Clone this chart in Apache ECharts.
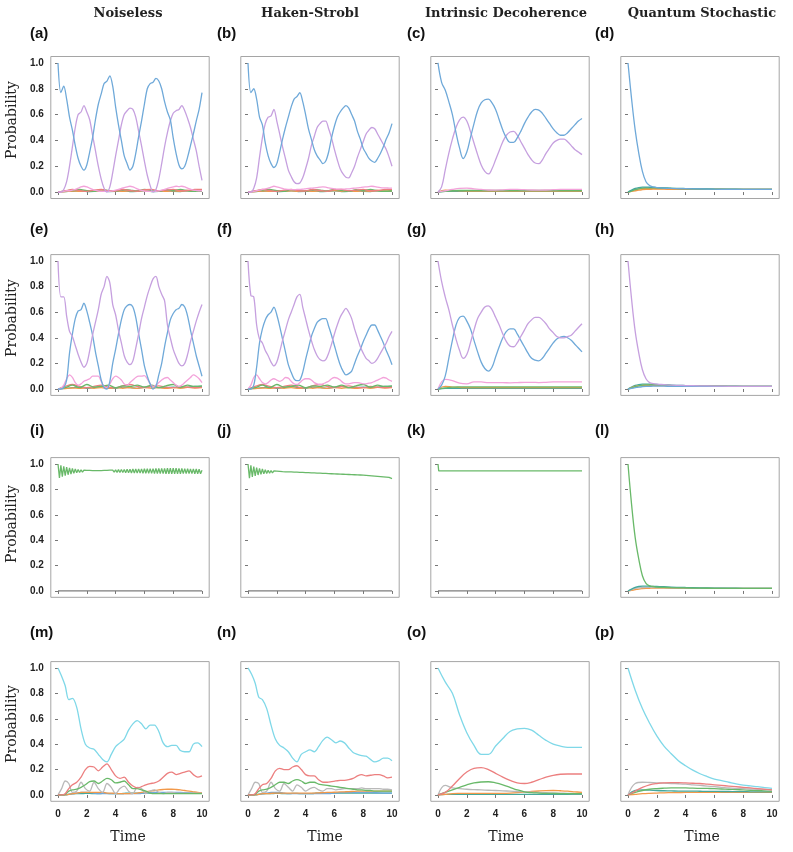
<!DOCTYPE html>
<html>
<head>
<meta charset="utf-8">
<script src="https://cdn.jsdelivr.net/npm/echarts@6/dist/echarts.min.js"></script>
<style>
    html, body { margin: 0; padding: 0; background: #fff; }
    #chart { width: 793px; height: 852px; }
</style>
</head>
<body>
<div id="chart"></div>
<script>
// time grids (sampling positions only)
function steps(dt, n) {
    var a = [];
    for (var i = 0; i <= n; i++) {
        a.push(Math.round(i * dt * 100) / 100);
    }
    return a;
}
var tTenth = steps(0.1, 100);
var tFifth = steps(0.2, 50);
var tQuarter = steps(0.25, 40);
var tHalf = steps(0.5, 20);
var tRow4 = [0, 0.25, 0.5, 0.75, 1.0, 1.3, 1.6, 1.9, 2.2, 2.5, 2.8, 3.1, 3.4, 3.7, 4.0, 4.3, 4.6, 4.9,
    5.2, 5.5, 5.8, 6.1, 6.4, 6.7, 7.0, 7.3, 7.6, 7.9, 8.2, 8.5, 8.8, 9.1, 9.4, 9.7, 10];
var tQsw = [0, 0.25, 0.5, 0.75, 1, 1.25, 1.5, 1.75, 2, 2.5, 3, 4, 5, 6, 7, 8, 9, 10];
var tStep = [0, 0.05, 10];

var xTicks = [0, 2, 4, 6, 8, 10];
var yTicks = [0, 0.2, 0.4, 0.6, 0.8, 1.0];
var colTitles = ['Noiseless', 'Haken-Strobl', 'Intrinsic Decoherence', 'Quantum Stochastic'];
var panelTags = ['(a)', '(b)', '(c)', '(d)', '(e)', '(f)', '(g)', '(h)',
    '(i)', '(j)', '(k)', '(l)', '(m)', '(n)', '(o)', '(p)'];

// ---- row 1 ----
var blueA = [1.00, 0.77, 0.82, 0.72, 0.58, 0.48, 0.36, 0.26, 0.20, 0.17,
    0.21, 0.31, 0.42, 0.56, 0.68, 0.76, 0.84, 0.86, 0.90, 0.82,
    0.66, 0.52, 0.40, 0.28, 0.22, 0.17, 0.20, 0.30, 0.43, 0.55,
    0.68, 0.80, 0.84, 0.85, 0.88, 0.86, 0.80, 0.70, 0.62, 0.56,
    0.42, 0.30, 0.21, 0.18, 0.20, 0.27, 0.36, 0.45, 0.55, 0.64,
    0.77];
var purpleA = [0.00, 0.00, 0.02, 0.08, 0.20, 0.35, 0.50, 0.60, 0.62, 0.67,
    0.62, 0.56, 0.44, 0.32, 0.20, 0.10, 0.03, 0.00, 0.04, 0.15,
    0.28, 0.40, 0.52, 0.60, 0.63, 0.65, 0.64, 0.58, 0.47, 0.36,
    0.24, 0.13, 0.05, 0.00, 0.02, 0.10, 0.22, 0.35, 0.46, 0.55,
    0.61, 0.63, 0.64, 0.67, 0.63, 0.57, 0.50, 0.41, 0.32, 0.20,
    0.09];
var pinkA = [0, 0, 0.005, 0.01, 0.01, 0.015, 0.02, 0.03, 0.04, 0.045,
    0.04, 0.03, 0.02, 0.012, 0.008, 0.006, 0.005, 0.005, 0.006, 0.01,
    0.015, 0.02, 0.028, 0.035, 0.04, 0.045, 0.04, 0.03, 0.02, 0.012,
    0.008, 0.006, 0.005, 0.005, 0.006, 0.01, 0.015, 0.02, 0.028, 0.035,
    0.04, 0.045, 0.042, 0.045, 0.04, 0.03, 0.022, 0.015, 0.012, 0.01,
    0.01];
var blueB = [1.00, 0.77, 0.80, 0.72, 0.58, 0.52, 0.38, 0.28, 0.22, 0.19,
    0.22, 0.31, 0.41, 0.50, 0.58, 0.66, 0.72, 0.74, 0.77, 0.70,
    0.60, 0.49, 0.41, 0.33, 0.28, 0.25, 0.22, 0.24, 0.31, 0.42,
    0.51, 0.58, 0.62, 0.65, 0.67, 0.65, 0.60, 0.55, 0.47, 0.41,
    0.34, 0.30, 0.26, 0.24, 0.23, 0.26, 0.30, 0.35, 0.41, 0.46,
    0.53];
var purpleB = [0, 0, 0.03, 0.11, 0.27, 0.42, 0.53, 0.58, 0.59, 0.64,
    0.55, 0.45, 0.35, 0.26, 0.17, 0.12, 0.08, 0.065, 0.07, 0.11,
    0.18, 0.26, 0.36, 0.43, 0.50, 0.53, 0.55, 0.55, 0.49, 0.42,
    0.33, 0.25, 0.18, 0.14, 0.115, 0.11, 0.15, 0.20, 0.27, 0.33,
    0.39, 0.45, 0.48, 0.50, 0.49, 0.45, 0.41, 0.37, 0.33, 0.27,
    0.20];
var pinkB = [0, 0, 0.005, 0.01, 0.015, 0.02, 0.025, 0.03, 0.038, 0.045,
    0.04, 0.035, 0.028, 0.022, 0.02, 0.018, 0.018, 0.02, 0.02, 0.022,
    0.025, 0.028, 0.03, 0.032, 0.035, 0.038, 0.04, 0.038, 0.032, 0.028,
    0.025, 0.022, 0.022, 0.022, 0.024, 0.025, 0.028, 0.03, 0.032, 0.035,
    0.038, 0.04, 0.042, 0.045, 0.042, 0.038, 0.035, 0.033, 0.032, 0.031,
    0.03];
var redSmallA = [0, 0.01, 0.02, 0.012, 0.005, 0.015, 0.02, 0.01, 0.008, 0.02, 0.012,
    0.006, 0.018, 0.02, 0.01, 0.015, 0.02, 0.01, 0.012, 0.02, 0.02];
var greenSmallA = [0, 0.008, 0.015, 0.02, 0.01, 0.005, 0.018, 0.012, 0.006, 0.02, 0.015,
    0.008, 0.02, 0.012, 0.005, 0.018, 0.012, 0.02, 0.01, 0.006, 0.01];
var orangeSmallA = [0, 0.004, 0.008, 0.005, 0.01, 0.006, 0.01, 0.005, 0.01, 0.006, 0.01,
    0.005, 0.012, 0.006, 0.01, 0.005, 0.01, 0.006, 0.012, 0.008, 0.01];
var tealSmallA = [0, 0.003, 0.006, 0.01, 0.004, 0.006, 0.01, 0.004, 0.005, 0.01, 0.004,
    0.006, 0.01, 0.004, 0.006, 0.01, 0.005, 0.004, 0.01, 0.005, 0.005];

var blueC = [1.0, 0.85, 0.79, 0.70, 0.60, 0.46, 0.34, 0.26, 0.31, 0.42,
    0.53, 0.63, 0.69, 0.715, 0.72, 0.69, 0.64, 0.56, 0.48, 0.42,
    0.385, 0.385, 0.42, 0.47, 0.53, 0.58, 0.62, 0.64, 0.635, 0.61,
    0.57, 0.53, 0.49, 0.46, 0.44, 0.44, 0.46, 0.49, 0.52, 0.55,
    0.57];
var purpleC = [0, 0.04, 0.17, 0.30, 0.41, 0.50, 0.56, 0.58, 0.55, 0.47,
    0.38, 0.29, 0.21, 0.16, 0.14, 0.18, 0.25, 0.32, 0.39, 0.44,
    0.465, 0.47, 0.44, 0.39, 0.34, 0.29, 0.25, 0.225, 0.22, 0.25,
    0.30, 0.34, 0.38, 0.40, 0.41, 0.41, 0.39, 0.36, 0.33, 0.31,
    0.29];
var pinkC = [0, 0.01, 0.02, 0.028, 0.03, 0.025, 0.02, 0.016, 0.015, 0.017, 0.02,
    0.02, 0.018, 0.016, 0.015, 0.016, 0.018, 0.02, 0.02, 0.02, 0.02];
var greenC = [0, 0.006, 0.01, 0.012, 0.012, 0.012, 0.012, 0.012, 0.012, 0.012, 0.012,
    0.012, 0.012, 0.012, 0.012, 0.012, 0.012, 0.012, 0.012, 0.012, 0.012];
var orangeC = [0, 0.015, 0.012, 0.01, 0.008, 0.008, 0.008, 0.008, 0.008, 0.008, 0.008,
    0.008, 0.008, 0.008, 0.008, 0.008, 0.008, 0.008, 0.008, 0.008, 0.008];
var tealC = [0, 0.005, 0.005, 0.005, 0.005, 0.005, 0.005, 0.005, 0.005, 0.005, 0.005,
    0.005, 0.005, 0.005, 0.005, 0.005, 0.005, 0.005, 0.005, 0.005, 0.005];

var blueD = [1.0, 0.72, 0.48, 0.30, 0.16, 0.08, 0.05, 0.04, 0.035, 0.03, 0.028, 0.026, 0.024,
    0.022, 0.021, 0.02, 0.02, 0.02];
var tealD = [0, 0.015, 0.028, 0.035, 0.038, 0.038, 0.037, 0.036, 0.035, 0.033, 0.03, 0.027, 0.025,
    0.023, 0.022, 0.021, 0.02, 0.02];
var orangeD = [0, 0.01, 0.02, 0.025, 0.027, 0.028, 0.028, 0.028, 0.027, 0.026, 0.025, 0.024, 0.023,
    0.022, 0.021, 0.02, 0.02, 0.02];
var greenD = [0, 0.008, 0.018, 0.025, 0.03, 0.032, 0.033, 0.033, 0.032, 0.03, 0.028, 0.026, 0.024,
    0.022, 0.021, 0.02, 0.02, 0.02];
var purpleD = [0, 0.005, 0.01, 0.015, 0.018, 0.02, 0.021, 0.022, 0.022, 0.022, 0.021, 0.021, 0.02,
    0.02, 0.02, 0.02, 0.02, 0.02];

// ---- row 2 ----
var purpleE = [1.00, 0.72, 0.72, 0.57, 0.45, 0.41, 0.34, 0.27, 0.21, 0.17,
    0.20, 0.30, 0.42, 0.52, 0.62, 0.74, 0.80, 0.88, 0.83, 0.66,
    0.58, 0.46, 0.36, 0.26, 0.21, 0.19, 0.22, 0.32, 0.43, 0.55,
    0.64, 0.73, 0.80, 0.86, 0.88, 0.80, 0.74, 0.69, 0.50, 0.40,
    0.31, 0.25, 0.20, 0.18, 0.20, 0.27, 0.37, 0.45, 0.53, 0.60,
    0.66];
var blueE = [0, 0, 0.01, 0.07, 0.28, 0.43, 0.55, 0.61, 0.62, 0.67,
    0.61, 0.52, 0.42, 0.29, 0.18, 0.07, 0.01, 0.00, 0.06, 0.20,
    0.31, 0.43, 0.54, 0.62, 0.65, 0.66, 0.64, 0.56, 0.43, 0.31,
    0.18, 0.10, 0.04, 0.00, 0.02, 0.11, 0.20, 0.33, 0.44, 0.54,
    0.59, 0.62, 0.63, 0.66, 0.64, 0.57, 0.46, 0.36, 0.26, 0.18,
    0.10];
var pinkE = [0, 0.005, 0.03, 0.08, 0.11, 0.09, 0.05, 0.03, 0.04, 0.06,
    0.07, 0.08, 0.10, 0.10, 0.10, 0.06, 0.02, 0.01, 0.04, 0.08,
    0.10, 0.09, 0.07, 0.04, 0.03, 0.05, 0.07, 0.09, 0.10, 0.10,
    0.105, 0.08, 0.04, 0.02, 0.03, 0.05, 0.07, 0.085, 0.09, 0.07,
    0.05, 0.03, 0.02, 0.03, 0.05, 0.07, 0.09, 0.11, 0.10, 0.08,
    0.05];
var purpleF = [1.00, 0.73, 0.72, 0.50, 0.39, 0.36, 0.30, 0.26, 0.21, 0.18,
    0.21, 0.29, 0.38, 0.46, 0.54, 0.60, 0.66, 0.72, 0.74, 0.64,
    0.55, 0.46, 0.38, 0.31, 0.26, 0.23, 0.22, 0.23, 0.28, 0.35,
    0.43, 0.50, 0.56, 0.60, 0.63, 0.60, 0.55, 0.47, 0.40, 0.33,
    0.28, 0.24, 0.22, 0.20, 0.21, 0.24, 0.28, 0.32, 0.36, 0.41,
    0.45];
var blueF = [0, 0, 0.03, 0.17, 0.36, 0.47, 0.54, 0.58, 0.60, 0.64,
    0.58, 0.49, 0.39, 0.29, 0.19, 0.13, 0.08, 0.065, 0.07, 0.13,
    0.23, 0.32, 0.41, 0.47, 0.52, 0.54, 0.55, 0.55, 0.49, 0.42,
    0.34, 0.26, 0.19, 0.14, 0.11, 0.12, 0.14, 0.20, 0.26, 0.31,
    0.37, 0.42, 0.47, 0.50, 0.50, 0.46, 0.41, 0.36, 0.30, 0.25,
    0.19];
var pinkF = [0, 0.03, 0.09, 0.11, 0.08, 0.05, 0.04, 0.05, 0.07, 0.08,
    0.07, 0.06, 0.07, 0.09, 0.085, 0.06, 0.04, 0.035, 0.05, 0.07,
    0.08, 0.08, 0.07, 0.05, 0.04, 0.035, 0.04, 0.05, 0.06, 0.08,
    0.09, 0.085, 0.07, 0.05, 0.04, 0.04, 0.045, 0.05, 0.05, 0.045,
    0.04, 0.04, 0.045, 0.05, 0.06, 0.07, 0.08, 0.09, 0.085, 0.07,
    0.06];
var greenSmallE = [0, 0.01, 0.03, 0.01, 0.035, 0.015, 0.02, 0.03, 0.01, 0.025, 0.02,
    0.03, 0.015, 0.03, 0.01, 0.025, 0.035, 0.015, 0.03, 0.02, 0.025];
var redSmallE = [0, 0.02, 0.035, 0.02, 0.01, 0.02, 0.03, 0.015, 0.01, 0.025, 0.035,
    0.02, 0.01, 0.02, 0.025, 0.015, 0.01, 0.02, 0.015, 0.01, 0.015];
var tealSmallE = [0, 0.005, 0.01, 0.015, 0.005, 0.01, 0.02, 0.01, 0.005, 0.015, 0.01,
    0.005, 0.015, 0.02, 0.01, 0.01, 0.015, 0.01, 0.015, 0.02, 0.02];

var purpleG = [1.0, 0.84, 0.72, 0.62, 0.50, 0.39, 0.30, 0.24, 0.27, 0.36,
    0.46, 0.55, 0.60, 0.64, 0.65, 0.62, 0.56, 0.50, 0.43, 0.37,
    0.335, 0.33, 0.36, 0.41, 0.46, 0.51, 0.54, 0.56, 0.56, 0.54,
    0.51, 0.47, 0.44, 0.41, 0.40, 0.40, 0.41, 0.42, 0.45, 0.48,
    0.51];
var blueG = [0, 0.03, 0.10, 0.24, 0.38, 0.50, 0.56, 0.57, 0.53, 0.47,
    0.38, 0.29, 0.21, 0.16, 0.14, 0.17, 0.25, 0.33, 0.40, 0.45,
    0.47, 0.47, 0.43, 0.38, 0.33, 0.28, 0.24, 0.225, 0.22, 0.24,
    0.28, 0.32, 0.36, 0.39, 0.405, 0.41, 0.40, 0.38, 0.35, 0.32,
    0.29];
var pinkG = [0, 0.075, 0.065, 0.045, 0.04, 0.055, 0.055, 0.05, 0.05, 0.05, 0.048,
    0.05, 0.052, 0.052, 0.05, 0.052, 0.055, 0.055, 0.055, 0.055, 0.055];
var greenG = [0, 0.008, 0.014, 0.016, 0.017, 0.017, 0.017, 0.017, 0.017, 0.017, 0.017,
    0.017, 0.017, 0.017, 0.017, 0.017, 0.017, 0.017, 0.017, 0.017, 0.017];
var orangeG = [0, 0.02, 0.015, 0.012, 0.01, 0.01, 0.01, 0.01, 0.01, 0.01, 0.01,
    0.01, 0.01, 0.01, 0.01, 0.01, 0.01, 0.01, 0.01, 0.01, 0.01];

var purpleH = [1.0, 0.70, 0.45, 0.28, 0.15, 0.08, 0.05, 0.042, 0.038, 0.034, 0.03, 0.027, 0.025,
    0.023, 0.021, 0.02, 0.02, 0.02];

// ---- row 3 ----
var greenI = [1.000, 0.890, 0.990, 0.900, 0.982, 0.908, 0.975, 0.915, 0.969, 0.921,
    0.964, 0.926, 0.960, 0.930, 0.957, 0.933, 0.954, 0.936, 0.952, 0.938,
    0.950, 0.940, 0.949, 0.941, 0.948, 0.942, 0.947, 0.942, 0.947, 0.941,
    0.948, 0.940, 0.949, 0.939, 0.950, 0.938, 0.951, 0.937, 0.952, 0.935,
    0.954, 0.934, 0.955, 0.933, 0.956, 0.932, 0.957, 0.931, 0.958, 0.930,
    0.959, 0.929, 0.960, 0.929, 0.960, 0.928, 0.961, 0.928, 0.961, 0.927,
    0.962, 0.927, 0.962, 0.926, 0.963, 0.926, 0.963, 0.925, 0.964, 0.925,
    0.964, 0.924, 0.965, 0.924, 0.965, 0.923, 0.966, 0.923, 0.966, 0.922,
    0.966, 0.922, 0.966, 0.923, 0.965, 0.923, 0.964, 0.924, 0.963, 0.924,
    0.962, 0.925, 0.961, 0.924, 0.961, 0.923, 0.960, 0.923, 0.958, 0.922,
    0.950];
var greenJ = [1.000, 0.888, 0.990, 0.898, 0.980, 0.906, 0.972, 0.913, 0.965, 0.918,
    0.960, 0.922, 0.955, 0.925, 0.951, 0.927, 0.948, 0.929, 0.945, 0.930,
    0.943, 0.931, 0.941, 0.931, 0.939, 0.931, 0.938, 0.930, 0.937, 0.929,
    0.937, 0.929, 0.936, 0.928, 0.935, 0.927, 0.934, 0.926, 0.933, 0.925,
    0.932, 0.924, 0.931, 0.923, 0.930, 0.922, 0.929, 0.921, 0.928, 0.920,
    0.927, 0.919, 0.926, 0.918, 0.925, 0.917, 0.924, 0.916, 0.923, 0.915,
    0.922, 0.914, 0.921, 0.913, 0.920, 0.912, 0.919, 0.911, 0.918, 0.910,
    0.917, 0.909, 0.916, 0.908, 0.915, 0.907, 0.914, 0.906, 0.913, 0.905,
    0.912, 0.903, 0.910, 0.901, 0.908, 0.899, 0.906, 0.897, 0.904, 0.895,
    0.902, 0.893, 0.900, 0.891, 0.898, 0.889, 0.896, 0.887, 0.894, 0.885,
    0.884];
var greenK = [1.0, 0.945, 0.945];
var zeroRow3 = [0, 0, 0, 0, 0, 0, 0, 0, 0, 0, 0, 0, 0, 0, 0, 0, 0, 0, 0, 0, 0];
var greenL = [1.0, 0.68, 0.42, 0.25, 0.12, 0.06, 0.04, 0.035, 0.03, 0.028, 0.026, 0.024, 0.022,
    0.021, 0.02, 0.02, 0.02, 0.02];

// ---- row 4 ----
var cyanM = [1.0, 0.935, 0.86, 0.75, 0.76, 0.69, 0.52, 0.40, 0.37, 0.36, 0.32, 0.28, 0.26, 0.32,
    0.38, 0.41, 0.44, 0.51, 0.56, 0.585, 0.56, 0.52, 0.55, 0.55, 0.50, 0.41, 0.38, 0.39, 0.39,
    0.35, 0.34, 0.34, 0.40, 0.41, 0.38];
var redM = [0, 0, 0.01, 0.05, 0.08, 0.10, 0.14, 0.20, 0.225, 0.22, 0.19, 0.22, 0.245, 0.20,
    0.15, 0.13, 0.14, 0.10, 0.07, 0.055, 0.065, 0.08, 0.09, 0.095, 0.11, 0.14, 0.17, 0.18, 0.16,
    0.17, 0.18, 0.19, 0.16, 0.14, 0.15];
var greenM = [0, 0, 0.005, 0.03, 0.04, 0.045, 0.06, 0.08, 0.105, 0.11, 0.09, 0.11, 0.13, 0.12,
    0.095, 0.10, 0.11, 0.08, 0.05, 0.05, 0.04, 0.03, 0.015, 0.01, 0.01, 0.01, 0.01, 0.01, 0.01,
    0.01, 0.01, 0.01, 0.01, 0.01, 0.01];
var grayM = [0, 0.05, 0.11, 0.09, 0.02, 0.03, 0.10, 0.05, 0.03, 0.10, 0.05, 0.02, 0.09, 0.06,
    0.01, 0.05, 0.07, 0.03, 0.01, 0.06, 0.05, 0.01, 0.03, 0.04, 0.02, 0.01, 0.02, 0.02, 0.015,
    0.015, 0.015, 0.015, 0.015, 0.015, 0.015];
var orangeM = [0, 0, 0, 0.005, 0.01, 0.015, 0.02, 0.02, 0.02, 0.02, 0.02, 0.02, 0.015, 0.015,
    0.012, 0.01, 0.01, 0.01, 0.012, 0.015, 0.02, 0.025, 0.03, 0.035, 0.04, 0.043, 0.045, 0.045,
    0.043, 0.04, 0.035, 0.03, 0.025, 0.02, 0.018];
var tealM = [0, 0, 0.002, 0.005, 0.008, 0.01, 0.01, 0.012, 0.012, 0.01, 0.01, 0.012, 0.012, 0.01,
    0.01, 0.01, 0.012, 0.015, 0.015, 0.015, 0.015, 0.015, 0.015, 0.015, 0.015, 0.015, 0.015,
    0.015, 0.015, 0.015, 0.015, 0.015, 0.015, 0.015, 0.015];
var blueSmallM = [0, 0, 0, 0.005, 0.01, 0.015, 0.02, 0.02, 0.02, 0.015, 0.01, 0.01, 0.01, 0.01,
    0.01, 0.01, 0.01, 0.01, 0.01, 0.01, 0.012, 0.015, 0.018, 0.02, 0.02, 0.02, 0.02, 0.02, 0.02,
    0.02, 0.018, 0.016, 0.015, 0.015, 0.015];

var cyanN = [1.0, 0.95, 0.88, 0.77, 0.75, 0.68, 0.55, 0.44, 0.39, 0.37, 0.34, 0.29, 0.26, 0.32,
    0.34, 0.355, 0.34, 0.38, 0.43, 0.455, 0.435, 0.41, 0.425, 0.41, 0.37, 0.335, 0.32, 0.31,
    0.305, 0.28, 0.26, 0.27, 0.29, 0.29, 0.27];
var redN = [0, 0, 0.01, 0.05, 0.08, 0.09, 0.13, 0.19, 0.21, 0.20, 0.20, 0.22, 0.23, 0.20, 0.16,
    0.15, 0.15, 0.12, 0.10, 0.10, 0.105, 0.11, 0.115, 0.115, 0.12, 0.13, 0.15, 0.16, 0.15, 0.155,
    0.16, 0.16, 0.15, 0.135, 0.14];
var greenN = [0, 0, 0.005, 0.03, 0.04, 0.045, 0.06, 0.08, 0.10, 0.10, 0.09, 0.11, 0.12, 0.11,
    0.09, 0.10, 0.10, 0.085, 0.08, 0.075, 0.07, 0.065, 0.06, 0.055, 0.05, 0.045, 0.04, 0.04,
    0.035, 0.035, 0.03, 0.03, 0.03, 0.03, 0.03];
var grayN = [0, 0.05, 0.10, 0.09, 0.02, 0.03, 0.10, 0.05, 0.03, 0.09, 0.06, 0.03, 0.08, 0.06,
    0.03, 0.05, 0.06, 0.04, 0.03, 0.05, 0.05, 0.04, 0.045, 0.05, 0.05, 0.05, 0.05, 0.055, 0.05,
    0.05, 0.05, 0.05, 0.045, 0.045, 0.04];
var orangeN = [0, 0, 0, 0.005, 0.01, 0.01, 0.012, 0.015, 0.015, 0.015, 0.015, 0.015, 0.015,
    0.015, 0.015, 0.015, 0.015, 0.017, 0.018, 0.02, 0.02, 0.022, 0.024, 0.025, 0.026, 0.028,
    0.03, 0.03, 0.03, 0.03, 0.03, 0.03, 0.03, 0.03, 0.03];

var cyanO = [1.0, 0.89, 0.80, 0.63, 0.49, 0.39, 0.32, 0.32, 0.385, 0.445, 0.50,
    0.52, 0.525, 0.51, 0.47, 0.43, 0.40, 0.385, 0.375, 0.375, 0.375];
var redO = [0, 0.02, 0.07, 0.13, 0.18, 0.21, 0.215, 0.20, 0.17, 0.14, 0.115,
    0.095, 0.09, 0.10, 0.12, 0.14, 0.155, 0.163, 0.165, 0.165, 0.165];
var greenO = [0, 0.02, 0.04, 0.06, 0.08, 0.095, 0.102, 0.104, 0.095, 0.08, 0.06,
    0.04, 0.025, 0.018, 0.015, 0.013, 0.012, 0.011, 0.01, 0.01, 0.01];
var grayO = [0, 0.075, 0.055, 0.05, 0.045, 0.042, 0.04, 0.037, 0.035, 0.032, 0.03,
    0.027, 0.025, 0.022, 0.02, 0.018, 0.016, 0.014, 0.012, 0.011, 0.01];
var orangeO = [0, 0.005, 0.01, 0.012, 0.013, 0.013, 0.012, 0.012, 0.012, 0.013, 0.015,
    0.018, 0.022, 0.027, 0.031, 0.034, 0.035, 0.033, 0.03, 0.025, 0.02];

var cyanP = [1.0, 0.825, 0.68, 0.565, 0.465, 0.385, 0.325, 0.27, 0.23, 0.195, 0.167,
    0.145, 0.125, 0.112, 0.10, 0.088, 0.078, 0.071, 0.065, 0.058, 0.052];
var grayP = [0, 0.09, 0.10, 0.098, 0.095, 0.093, 0.09, 0.088, 0.085, 0.08, 0.075,
    0.07, 0.065, 0.06, 0.055, 0.052, 0.05, 0.047, 0.045, 0.042, 0.04];
var redP = [0, 0.03, 0.06, 0.08, 0.09, 0.095, 0.097, 0.097, 0.095, 0.092, 0.09,
    0.085, 0.08, 0.075, 0.07, 0.065, 0.06, 0.055, 0.05, 0.045, 0.04];
var greenP = [0, 0.02, 0.035, 0.045, 0.05, 0.053, 0.055, 0.055, 0.055, 0.053, 0.052,
    0.051, 0.05, 0.047, 0.045, 0.042, 0.04, 0.037, 0.035, 0.032, 0.03];
var tealP = [0, 0.035, 0.04, 0.038, 0.035, 0.033, 0.032, 0.03, 0.03, 0.03, 0.029,
    0.028, 0.028, 0.027, 0.027, 0.026, 0.026, 0.025, 0.025, 0.025, 0.025];
var orangeP = [0, 0.005, 0.01, 0.013, 0.015, 0.017, 0.018, 0.019, 0.02, 0.02, 0.02,
    0.02, 0.02, 0.02, 0.02, 0.02, 0.02, 0.02, 0.02, 0.02, 0.02];

var palette = {
    blue: '#6fa9d9', purple: '#c6a0df', pink: '#f3a2da', red: '#ec7f7f',
    green: '#69b969', orange: '#f2994a', cyan: '#7fd8e8', gray: '#b9b9b9',
    teal: '#45a89c', dark: '#7d7d7d'
};

// each panel: [time grid, values, colour key], drawn in order
var panels = [
    {smooth: 0.3, lines: [[tHalf, tealSmallA, 'teal'], [tHalf, orangeSmallA, 'orange'], [tHalf, greenSmallA, 'green'],
        [tHalf, redSmallA, 'red'], [tFifth, pinkA, 'pink'], [tFifth, purpleA, 'purple'], [tFifth, blueA, 'blue']]},
    {smooth: 0.3, lines: [[tHalf, tealSmallA, 'teal'], [tHalf, orangeSmallA, 'orange'], [tHalf, greenSmallA, 'green'],
        [tHalf, redSmallA, 'red'], [tFifth, pinkB, 'pink'], [tFifth, purpleB, 'purple'], [tFifth, blueB, 'blue']]},
    {smooth: 0.4, lines: [[tHalf, tealC, 'teal'], [tHalf, orangeC, 'orange'], [tHalf, greenC, 'green'],
        [tHalf, pinkC, 'pink'], [tQuarter, purpleC, 'purple'], [tQuarter, blueC, 'blue']]},
    {smooth: 0.4, lines: [[tQsw, purpleD, 'orange'], [tQsw, orangeD, 'orange'], [tQsw, greenD, 'green'],
        [tQsw, tealD, 'teal'], [tQsw, blueD, 'blue']]},

    {smooth: 0.3, lines: [[tHalf, tealSmallE, 'teal'], [tHalf, orangeSmallA, 'orange'], [tHalf, redSmallE, 'red'],
        [tHalf, greenSmallE, 'green'], [tFifth, pinkE, 'pink'], [tFifth, blueE, 'blue'], [tFifth, purpleE, 'purple']]},
    {smooth: 0.3, lines: [[tHalf, tealSmallE, 'teal'], [tHalf, orangeSmallA, 'orange'], [tHalf, redSmallE, 'red'],
        [tHalf, greenSmallE, 'green'], [tFifth, pinkF, 'pink'], [tFifth, blueF, 'blue'], [tFifth, purpleF, 'purple']]},
    {smooth: 0.4, lines: [[tHalf, tealC, 'teal'], [tHalf, orangeG, 'orange'], [tHalf, greenG, 'green'],
        [tHalf, pinkG, 'pink'], [tQuarter, blueG, 'blue'], [tQuarter, purpleG, 'purple']]},
    {smooth: 0.4, lines: [[tQsw, tealD, 'teal'], [tQsw, orangeD, 'orange'], [tQsw, greenD, 'green'],
        [tQsw, purpleD, 'blue'], [tQsw, purpleH, 'purple']]},

    {smooth: false, lines: [[tHalf, zeroRow3, 'dark'], [tTenth, greenI, 'green']]},
    {smooth: false, lines: [[tHalf, zeroRow3, 'dark'], [tTenth, greenJ, 'green']]},
    {smooth: false, lines: [[tHalf, zeroRow3, 'dark'], [tStep, greenK, 'green']]},
    {smooth: 0.4, lines: [[tQsw, purpleD, 'orange'], [tQsw, orangeD, 'gray'], [tQsw, tealD, 'teal'],
        [tQsw, greenL, 'green']]},

    {smooth: 0.3, lines: [[tRow4, tealM, 'teal'], [tRow4, blueSmallM, 'blue'], [tRow4, orangeM, 'orange'],
        [tRow4, grayM, 'gray'], [tRow4, greenM, 'green'], [tRow4, redM, 'red'], [tRow4, cyanM, 'cyan']]},
    {smooth: 0.3, lines: [[tRow4, tealM, 'teal'], [tRow4, blueSmallM, 'blue'], [tRow4, orangeN, 'orange'],
        [tRow4, grayN, 'gray'], [tRow4, greenN, 'green'], [tRow4, redN, 'red'], [tRow4, cyanN, 'cyan']]},
    {smooth: 0.4, lines: [[tHalf, tealC, 'teal'], [tHalf, orangeO, 'orange'], [tHalf, grayO, 'gray'],
        [tHalf, greenO, 'green'], [tHalf, redO, 'red'], [tHalf, cyanO, 'cyan']]},
    {smooth: 0.4, lines: [[tHalf, orangeP, 'orange'], [tHalf, tealP, 'teal'], [tHalf, greenP, 'green'],
        [tHalf, grayP, 'gray'], [tHalf, redP, 'red'], [tHalf, cyanP, 'cyan']]}
];

var colLeft = [50.8, 240.8, 430.8, 620.8];
var rowTop = [56.5, 254.6, 457.6, 661.6];
var rowHeight = [142, 140.8, 139.7, 139.7];
var tagX = [30, 217, 407, 595];
var tagY = [34, 230, 431, 633];
var probY = [120, 318, 524, 724];
var titleX = [128, 310, 506, 702];
var timeX = [128, 325, 506, 702];

var tickFont = 'Liberation Sans, Arial, sans-serif';
var serifFont = 'DejaVu Serif, serif';

function pairs(t, v) {
    return t.map(function (x, i) { return [x, v[i]]; });
}

var grids = [];
var xAxes = [];
var yAxes = [];
var series = [];

panels.forEach(function (p, k) {
    var col = k % 4;
    var row = Math.floor(k / 4);
    grids.push({
        left: colLeft[col], top: rowTop[row], width: 158.4, height: rowHeight[row],
        show: true, borderColor: '#a5a5a5', borderWidth: 1, backgroundColor: '#fff'
    });
    xAxes.push({
        gridIndex: k, type: 'value', min: -0.5, max: 10.5, offset: 1,
        splitLine: {show: false},
        axisLine: {show: false},
        axisTick: {show: true, customValues: xTicks, length: 3, lineStyle: {color: '#777'}},
        axisLabel: {
            show: row === 3, customValues: xTicks, margin: 7,
            fontSize: 10, fontWeight: 'bold', color: '#222', fontFamily: tickFont
        }
    });
    yAxes.push({
        gridIndex: k, type: 'value', min: -0.05, max: 1.05, offset: 2,
        splitLine: {show: false},
        axisLine: {show: false},
        axisTick: {show: true, customValues: yTicks, length: 3, lineStyle: {color: '#777'}},
        axisLabel: {
            show: col === 0, customValues: yTicks, margin: 5,
            fontSize: 10, fontWeight: 'bold', color: '#222', fontFamily: tickFont,
            formatter: function (v) { return v.toFixed(1); }
        }
    });
    p.lines.forEach(function (ln) {
        series.push({
            type: 'line', xAxisIndex: k, yAxisIndex: k,
            data: pairs(ln[0], ln[1]),
            showSymbol: false, smooth: p.smooth, silent: true,
            lineStyle: {width: 1.3, color: palette[ln[2]]}
        });
    });
});

var graphics = [];
colTitles.forEach(function (s, i) {
    graphics.push({
        type: 'text', x: titleX[i], y: 14,
        style: {text: s, font: 'bold 13px ' + serifFont, fill: '#222', align: 'center', verticalAlign: 'middle'}
    });
    graphics.push({
        type: 'text', x: timeX[i], y: 837,
        style: {text: 'Time', font: '14px ' + serifFont, fill: '#222', align: 'center', verticalAlign: 'middle'}
    });
});
probY.forEach(function (y) {
    graphics.push({
        type: 'text', x: 12, y: y, rotation: Math.PI / 2,
        style: {text: 'Probability', font: '14px ' + serifFont, fill: '#222', align: 'center', verticalAlign: 'middle'}
    });
});
panelTags.forEach(function (s, k) {
    graphics.push({
        type: 'text', x: tagX[k % 4], y: tagY[Math.floor(k / 4)],
        style: {text: s, font: 'bold 15px ' + tickFont, fill: '#111', align: 'left', verticalAlign: 'middle'}
    });
});

var chart = echarts.init(document.getElementById('chart'), null, {renderer: 'canvas'});
chart.setOption({
    animation: false,
    backgroundColor: '#fff',
    grid: grids,
    xAxis: xAxes,
    yAxis: yAxes,
    series: series,
    graphic: graphics
});
</script>
</body>
</html>
